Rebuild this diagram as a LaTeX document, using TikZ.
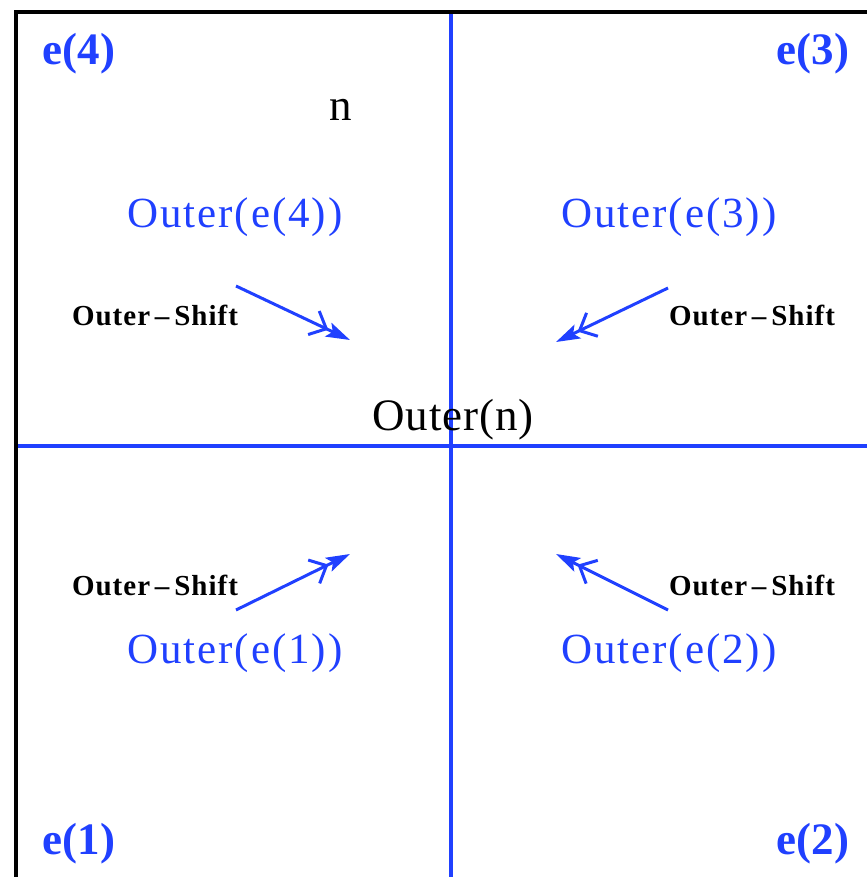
\documentclass[tikz,border=0pt]{standalone}
\usepackage{fontspec}
\setmainfont{Liberation Serif}
\newfontfamily\wideA[LetterSpace=4.5]{Liberation Serif}
\newfontfamily\wideB[LetterSpace=2.2]{Liberation Serif}
\newfontfamily\wideC[LetterSpace=3.5]{Liberation Serif}
\usetikzlibrary{arrows.meta}
\definecolor{lineblue}{RGB}{32,64,255}
\tikzset{
  corner/.style={text=lineblue,font=\fontsize{45}{48}\selectfont\bfseries,inner sep=0pt},
  outerlbl/.style={text=lineblue,font=\wideA\fontsize{43}{48}\selectfont,inner sep=0pt},
  shiftlbl/.style={text=black,font=\wideC\fontsize{29}{32}\selectfont\bfseries,inner sep=0pt},
  centerlbl/.style={text=black,font=\wideB\fontsize{45}{50}\selectfont,inner sep=0pt},
  bluerule/.style={draw=lineblue,line width=3.5pt},
  shiftarrow/.style={draw=lineblue,line width=3pt,
    -{Straight Barb[length=14pt,width=26pt,line width=3pt]Stealth[length=24pt,width=15pt,inset=5pt]}}
}
\begin{document}
\begin{tikzpicture}[x=1pt,y=-1pt]
\useasboundingbox (0,0) rectangle (867,877);
% blue rules
\draw[bluerule] (451,12) -- (451,877);
\draw[bluerule] (15,446) -- (867,446);
% black frame
\draw[line width=4pt] (16,877) -- (16,12.5) -- (867,12.5);
% corner labels
\node[corner] (e4) at (79,54) {e(4)};
\node[corner] (e3) at (813,54) {e(3)};
\node[corner] (e1) at (79,844) {e(1)};
\node[corner] (e2) at (813,844) {e(2)};
\node[centerlbl] (n) at (341,110) {n};
% outer labels
\node[outerlbl] (oe4) at (235,217) {Outer(e(4))};
\node[outerlbl] (oe3) at (669,217) {Outer(e(3))};
\node[outerlbl] (oe1) at (235,653) {Outer(e(1))};
\node[outerlbl] (oe2) at (669,653) {Outer(e(2))};
\node[centerlbl] (on) at (453,420) {Outer(n)};
% shift labels
\node[shiftlbl] (s4) at (155,315) {Outer\,\textendash\,Shift};
\node[shiftlbl] (s3) at (752,315) {Outer\,\textendash\,Shift};
\node[shiftlbl] (s1) at (155,585) {Outer\,\textendash\,Shift};
\node[shiftlbl] (s2) at (752,585) {Outer\,\textendash\,Shift};
% arrow endpoints
\coordinate (a4s) at (236,286); \coordinate (a4e) at (350,340);
\coordinate (a3s) at (668,288); \coordinate (a3e) at (556,342);
\coordinate (a1s) at (236,610); \coordinate (a1e) at (350,554);
\coordinate (a2s) at (668,610); \coordinate (a2e) at (556,554);
\draw[shiftarrow] (a4s) -- (a4e);
\draw[shiftarrow] (a3s) -- (a3e);
\draw[shiftarrow] (a1s) -- (a1e);
\draw[shiftarrow] (a2s) -- (a2e);
\end{tikzpicture}
\end{document}
